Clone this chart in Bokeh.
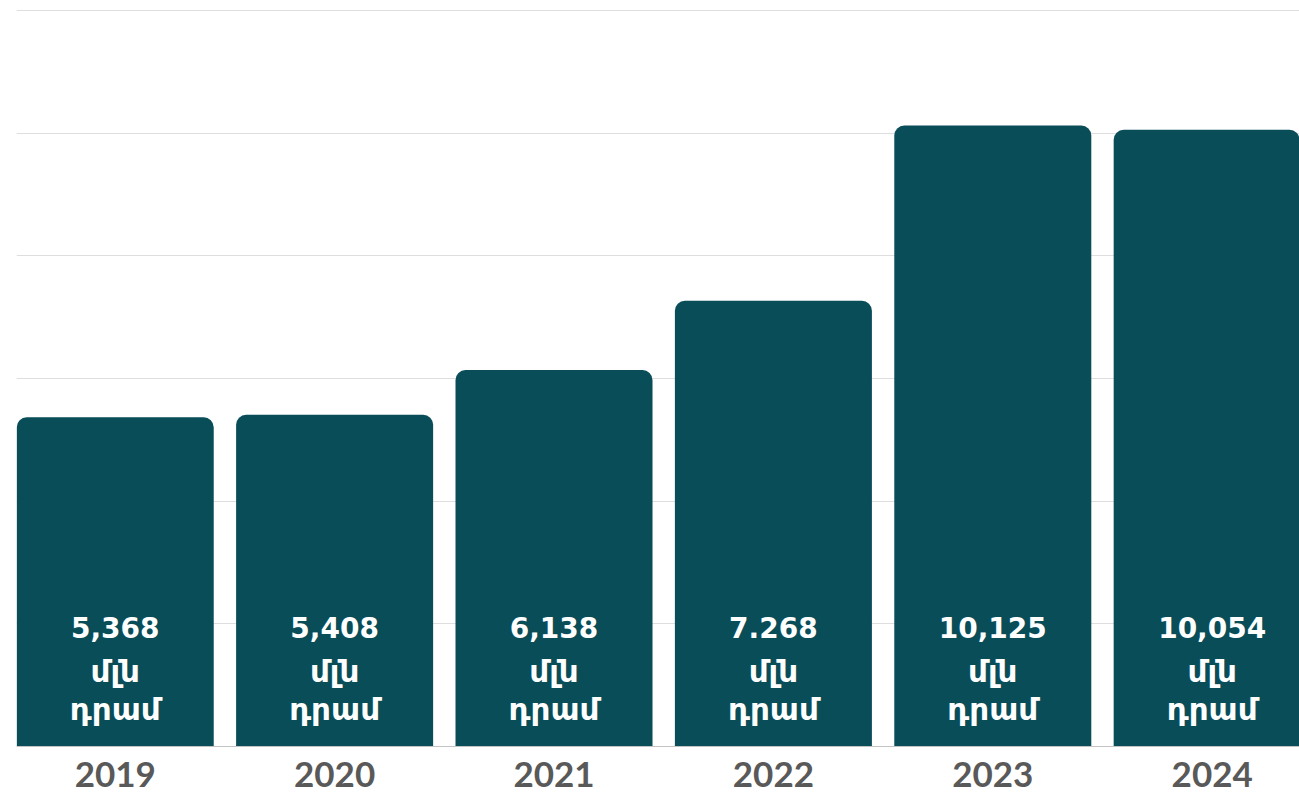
from bokeh.plotting import figure
from bokeh.models import ColumnDataSource, Range1d, FixedTicker, Span
from bokeh.core.properties import value
from bokeh.embed import file_html
from bokeh.resources import INLINE

# ---- data ----
years = ["2019", "2020", "2021", "2022", "2023", "2024"]
amounts = [5368, 5408, 6138, 7268, 10125, 10054]
amount_labels = ["5,368", "5,408", "6,138", "7.268", "10,125", "10,054"]
unit_word_1 = "մլն"
unit_word_2 = "դրամ"
grid_values = [2000, 4000, 6000, 8000, 10000, 12000]

xs = list(range(len(years)))
src = ColumnDataSource(dict(
    x=xs,
    top=amounts,
    lab=amount_labels,
    u1=[unit_word_1] * len(years),
    u2=[unit_word_2] * len(years),
    year=years,
    zero=[0] * len(years),
))

BAR = "#094d59"

p = figure(width=1299, height=797, output_backend="svg", toolbar_location=None,
           x_range=Range1d(-0.45, 5.398), y_range=Range1d(-831, 12016),
           min_border_left=16, min_border_right=0, min_border_top=9, min_border_bottom=0)
p.outline_line_color = None
p.background_fill_color = "white"
p.xaxis.visible = False
p.yaxis.visible = False
p.xgrid.grid_line_color = None
p.ygrid.ticker = FixedTicker(ticks=grid_values)
p.ygrid.grid_line_color = "#dedede"
p.ygrid.grid_line_width = 1

p.vbar(x="x", top="top", bottom=0, width=0.898, source=src,
       fill_color=BAR, line_color=None, border_radius=(10, 10, 0, 0))

p.add_layout(Span(location=0, dimension="width", line_color="#c4c4c4", line_width=1))

common = dict(source=src, text_color="white", text_align="center",
              text_baseline="alphabetic", text_font=value("DejaVu Sans"),
              text_font_style="bold")
p.text(x="x", y="zero", text="lab", y_offset=-119, text_font_size="28px", **common)
p.text(x="x", y="zero", text="u1", y_offset=-76, text_font_size="31px", **common)
p.text(x="x", y="zero", text="u2", y_offset=-38, text_font_size="31px", **common)

p.text(x="x", y="zero", text="year", source=src, y_offset=28,
       text_color="#595959", text_align="center", text_baseline="alphabetic",
       text_font=value("Lato"), text_font_style="bold", text_font_size="35px")

open("out.html", "w").write(file_html(p, INLINE))
